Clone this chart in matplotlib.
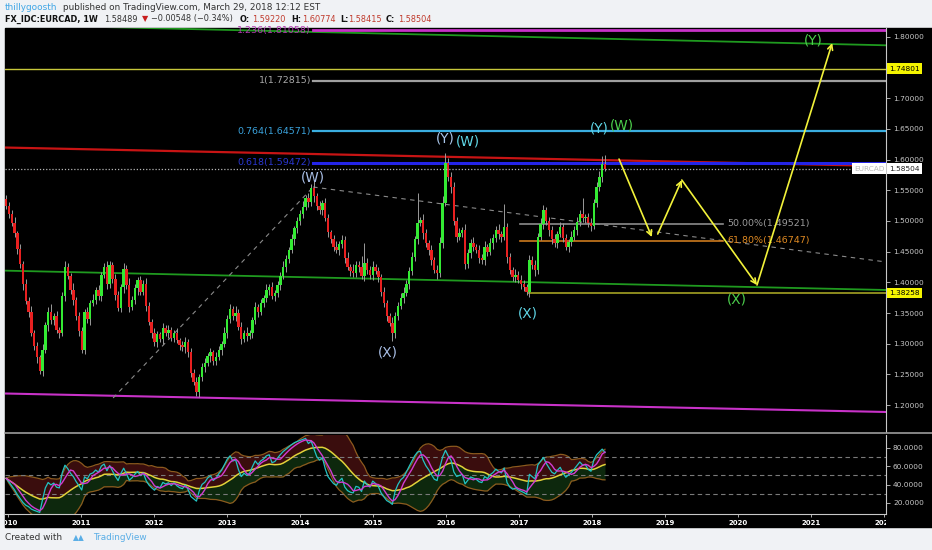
import matplotlib
matplotlib.use("Agg")
import matplotlib.pyplot as plt
import matplotlib.transforms as mtransforms
from matplotlib.patches import Rectangle
import numpy as np
import pandas as pd

# EURCAD weekly chart, prices (one candle every 2 weeks)
start_year = 2009.975
step_years = 14 / 365.25
first_open = 1.535
closes = [
    1.525, 1.512, 1.497, 1.480, 1.455, 1.430, 1.398, 1.370, 1.352, 1.318,
    1.296, 1.278, 1.256, 1.290, 1.330, 1.352, 1.338, 1.345, 1.322, 1.318,
    1.378, 1.425, 1.410, 1.388, 1.372, 1.345, 1.320, 1.290, 1.352, 1.340,
    1.366, 1.372, 1.388, 1.378, 1.412, 1.425, 1.398, 1.428, 1.405, 1.380,
    1.358, 1.392, 1.422, 1.395, 1.360, 1.372, 1.390, 1.404, 1.385, 1.398,
    1.362, 1.336, 1.318, 1.302, 1.315, 1.308, 1.326, 1.318, 1.322, 1.310,
    1.318, 1.306, 1.298, 1.294, 1.302, 1.286, 1.252, 1.238, 1.222, 1.245,
    1.262, 1.268, 1.280, 1.286, 1.272, 1.278, 1.290, 1.300, 1.318, 1.340,
    1.356, 1.345, 1.350, 1.328, 1.308, 1.318, 1.312, 1.318, 1.338, 1.360,
    1.352, 1.366, 1.374, 1.388, 1.393, 1.378, 1.382, 1.395, 1.410, 1.425,
    1.438, 1.452, 1.470, 1.488, 1.500, 1.512, 1.523, 1.538, 1.530, 1.553,
    1.540, 1.525, 1.518, 1.529, 1.505, 1.482, 1.470, 1.458, 1.452, 1.462,
    1.469, 1.440, 1.425, 1.418, 1.415, 1.428, 1.425, 1.410, 1.432, 1.420,
    1.412, 1.425, 1.418, 1.409, 1.385, 1.366, 1.345, 1.334, 1.318, 1.345,
    1.362, 1.375, 1.382, 1.398, 1.418, 1.441, 1.470, 1.496, 1.502, 1.480,
    1.464, 1.452, 1.436, 1.420, 1.415, 1.464, 1.529, 1.594, 1.572, 1.555,
    1.500, 1.474, 1.480, 1.485, 1.430, 1.448, 1.464, 1.458, 1.452, 1.440,
    1.436, 1.458, 1.450, 1.464, 1.472, 1.485, 1.478, 1.474, 1.490, 1.441,
    1.420, 1.409, 1.412, 1.404, 1.398, 1.392, 1.384, 1.436, 1.428, 1.420,
    1.474, 1.495, 1.518, 1.500, 1.485, 1.470, 1.464, 1.478, 1.490, 1.472,
    1.458, 1.466, 1.474, 1.485, 1.498, 1.512, 1.505, 1.506, 1.496, 1.492,
    1.529, 1.555, 1.572, 1.592, 1.585,
]
# wick lengths above / below the body, in 1/1000 of a price unit
wick_hi = [
    8, 6, 5, 9, 4, 7, 5, 8, 6, 9,  5, 7, 4, 10, 6, 8, 12, 5, 9, 6,
    7, 9, 6, 5, 11, 4, 6, 8, 5, 7,  6, 9, 5, 8, 4, 7, 10, 6, 5, 8,
    6, 5, 9, 7, 12, 6, 8, 4, 7, 5,  9, 6, 5, 8, 6, 4, 7, 5, 9, 6,
    5, 8, 4, 6, 9, 5, 7, 6, 8, 5,  6, 9, 5, 7, 4, 8, 6, 5, 9, 6,
    8, 5, 12, 6, 7, 5, 9, 4, 6, 8,  5, 7, 6, 9, 4, 8, 5, 7, 6, 10,
    6, 5, 8, 4, 7, 6, 9, 5, 8, 7,  12, 6, 8, 5, 9, 6, 4, 7, 10, 5,
    8, 6, 9, 5, 12, 7, 6, 18, 32, 8,  6, 9, 5, 7, 4, 8, 6, 5, 9, 7,
    6, 8, 10, 5, 7, 9, 6, 50, 5, 9,  7, 5, 9, 6, 8, 10, 12, 16, 8, 7,
    9, 6, 8, 5, 10, 7, 6, 9, 5, 8,  6, 9, 5, 8, 7, 6, 10, 5, 38, 6,
    7, 5, 9, 6, 8, 5, 6, 9, 7, 8,  6, 9, 8, 5, 7, 6, 9, 5, 8, 6,
    7, 5, 9, 6, 8, 5, 25, 6, 7, 9,  6, 8, 9, 14, 16,
]
wick_lo = [
    6, 8, 5, 7, 9, 6, 10, 5, 8, 6,  7, 9, 6, 8, 5, 10, 6, 7, 5, 9,
    6, 8, 5, 7, 9, 6, 8, 5, 7, 6,  9, 5, 7, 6, 8, 5, 9, 7, 6, 8,
    5, 7, 9, 6, 8, 5, 7, 10, 6, 5,  8, 6, 9, 5, 7, 6, 8, 5, 9, 6,
    7, 5, 8, 6, 9, 7, 6, 5, 7, 8,  6, 8, 5, 9, 6, 7, 5, 8, 6, 9,
    7, 6, 8, 5, 9, 6, 7, 5, 8, 6,  9, 5, 7, 6, 8, 5, 9, 6, 7, 5,
    8, 6, 5, 9, 7, 6, 8, 5, 7, 6,  9, 7, 6, 8, 5, 9, 6, 7, 5, 8,
    6, 9, 5, 8, 7, 6, 9, 5, 8, 7,  6, 8, 5, 9, 7, 6, 8, 5, 14, 9,
    7, 6, 8, 5, 9, 6, 7, 8, 5, 9,  6, 8, 7, 5, 9, 6, 8, 5, 7, 9,
    6, 8, 5, 7, 9, 6, 8, 7, 5, 9,  6, 8, 7, 5, 9, 6, 7, 8, 5, 9,
    6, 7, 8, 5, 9, 6, 4, 8, 6, 9,  7, 5, 8, 6, 9, 7, 6, 8, 5, 7,
    6, 9, 7, 5, 8, 6, 7, 9, 6, 8,  5, 7, 6, 8, 4,
]

last_price = 1.58504
marked_levels = [1.74801, 1.38258]

fib_ext_levels = [1.236, 1, 0.764, 0.618]
fib_ext_prices = [1.81058, 1.72815, 1.64571, 1.59472]
fib_ext_start = 2014.18
fib_ret_labels = ["50.00%", "61.80%"]
fib_ret_prices = [1.49521, 1.46747]
fib_ret_span = [2017.01, 2019.79]

trend_x = [2009.96, 2022.03]
green_upper = [1.8195, 1.786]
red_line = [1.6195, 1.5894]
green_lower = [1.419, 1.3875]
magenta_lower = [1.2189, 1.1888]
dash_lower_x = [2011.44, 2014.18]
dash_lower_y = [1.2116, 1.5552]
dash_upper_x = [2014.18, 2022.03]
dash_upper_y = [1.5552, 1.4331]
olive_start = 2017.12

# projected path (yellow arrows)
proj_x = [2018.37, 2018.82, 2018.90, 2019.23, 2020.26, 2021.29]
proj_y = [1.6007, 1.4737, 1.4786, 1.5666, 1.3956, 1.7897]
proj_legs = [(0, 1), (2, 3), (3, 4), (4, 5)]

wave_text = ["(W)", "(X)", "(Y)", "(W)", "(X)", "(Y)", "(W)", "(X)", "(Y)"]
wave_x = [2014.18, 2015.21, 2015.99, 2016.30, 2017.12, 2018.10, 2018.41, 2019.99, 2021.03]
wave_y = [1.5699, 1.2849, 1.6350, 1.6300, 1.3500, 1.6513, 1.6546, 1.3712, 1.7946]
wave_col = ["#a9bfe6", "#a9bfe6", "#a9c6ea", "#5fd6e6", "#5fd6e6",
            "#5fd6e6", "#4ccf4c", "#4ccf4c", "#4ccf4c"]

years = list(range(2010, 2023))
# 1.75 is hidden behind the 1.74801 marker on the axis
price_ticks = [1.20, 1.25, 1.30, 1.35, 1.40, 1.45, 1.50, 1.55, 1.60, 1.65, 1.70, 1.80]
rsi_ticks = [20, 40, 60, 80]
rsi_guides = [30, 50, 70]

# ---- figure in pixel units ----
W, H = 932, 550
fig = plt.figure(figsize=(W / 100, H / 100), dpi=100, facecolor="#f0f2f5")


def fx(px):
    return px / W


def fy(py):
    return 1 - py / H


fig.patches.append(Rectangle((fx(5), fy(527)), fx(927), (527 - 28) / H,
                             transform=fig.transFigure, color="black", zorder=-5))

ax = fig.add_axes([fx(5), fy(432), fx(881), (432 - 28) / H])
ax2 = fig.add_axes([fx(5), fy(514), fx(881), (514 - 435) / H])
xlim = (2009.959, 2022.027)
for a in (ax, ax2):
    a.set_facecolor("black")
    a.set_xlim(*xlim)
    for s in ("top", "left", "bottom"):
        a.spines[s].set_visible(False)
    a.spines["right"].set_color("#c8c8c8")
    a.yaxis.tick_right()
    a.tick_params(axis="y", colors="#c8c8c8", labelsize=5.3, length=3, width=0.6, pad=2)

ax.set_ylim(1.1562, 1.8142)
ax.set_xticks([])
ax.set_yticks(price_ticks)
ax.set_yticklabels([f"{p:.5f}" for p in price_ticks])

# candles
c = np.array(closes)
o = np.r_[first_open, c[:-1]]
t = start_year + np.arange(len(c)) * step_years
hi = np.maximum(o, c) + np.array(wick_hi) / 1000
lo = np.minimum(o, c) - np.array(wick_lo) / 1000
col = np.where(c >= o, "#33ea33", "#e82020")
ax.vlines(t, lo, hi, color="#9a9a9a", lw=0.7, zorder=3)
body = np.where(np.abs(c - o) < 0.002, 0.002, c - o)
ax.bar(t, body, bottom=o, width=0.033, color=col, linewidth=0, zorder=4)

# trend lines
ax.plot(trend_x, green_upper, color="#1f9a1f", lw=1.3, zorder=2)
ax.plot(trend_x, red_line, color="#c81414", lw=1.6, zorder=2)
ax.plot(trend_x, green_lower, color="#1f9a1f", lw=1.3, zorder=2)
ax.plot(trend_x, magenta_lower, color="#c832c8", lw=1.5, zorder=2)
ax.plot(dash_lower_x, dash_lower_y, color="#8a8a8a", lw=0.8, ls=(0, (4, 4)), zorder=2)
ax.plot(dash_upper_x, dash_upper_y, color="#8a8a8a", lw=0.8, ls=(0, (4, 4)), zorder=2)
ax.axhline(marked_levels[0], color="#c8c83a", lw=1.0, zorder=2)
ax.plot([olive_start, xlim[1]], [marked_levels[1]] * 2, color="#a4a224", lw=1.2, zorder=2)
ax.axhline(last_price, color="#b4b4b4", lw=0.9, ls=(0, (1, 1.5)), zorder=5)

# fib extension levels
ext_colors = ["#c832c8", "#a0a0a0", "#3aaee0", "#2424e8"]
ext_text_col = ["#b23ab2", "#a8a8a8", "#3aa2dc", "#2a36d0"]
ext_lw = [2.0, 1.6, 1.6, 2.2]
for lvl, p, lc, tc, lw in zip(fib_ext_levels, fib_ext_prices, ext_colors, ext_text_col, ext_lw):
    ax.plot([fib_ext_start, xlim[1]], [p, p], color=lc, lw=lw, zorder=2)
    ax.text(fib_ext_start - 0.03, p, f"{lvl:g}({p:.5f})", color=tc, fontsize=6.8,
            ha="right", va="center", zorder=6)

# fib retracement levels
ret_colors = ["#8c8c8c", "#cc7a1e"]
ret_text = ["#9a9a9a", "#e08a22"]
for lab, p, lc, tc in zip(fib_ret_labels, fib_ret_prices, ret_colors, ret_text):
    ax.plot(fib_ret_span, [p, p], color=lc, lw=1.2, zorder=2)
    ax.text(fib_ret_span[1] + 0.06, p, f"{lab}({p:.5f})", color=tc, fontsize=6.8,
            ha="left", va="center", zorder=6)

# projected path
for a_i, b_i in proj_legs:
    ax.annotate("", xy=(proj_x[b_i], proj_y[b_i]), xytext=(proj_x[a_i], proj_y[a_i]),
                arrowprops=dict(arrowstyle="->", color="#f2f23a", lw=1.2,
                                shrinkA=0, shrinkB=0, mutation_scale=9), zorder=7)

# wave labels
for s, x, y, cc in zip(wave_text, wave_x, wave_y, wave_col):
    ax.text(x, y, s, color=cc, fontsize=9.8, ha="center", va="center", zorder=8)

# price labels on the right axis
tr = mtransforms.blended_transform_factory(ax.transAxes, ax.transData)
for p in marked_levels:
    ax.text(1.004, p, f"{p:.5f}", transform=tr, fontsize=5.3, color="black",
            ha="left", va="center", zorder=9, clip_on=False,
            bbox=dict(boxstyle="square,pad=0.3", fc="#f4f400", ec="none"))
ax.text(1.004, last_price, f"{last_price:.5f}", transform=tr, fontsize=5.3, color="#222222",
        ha="left", va="center", zorder=9, clip_on=False,
        bbox=dict(boxstyle="square,pad=0.3", fc="white", ec="none"))
ax.text(0.998, last_price, "EURCAD", transform=tr, fontsize=5.3, color="#b8b8b8",
        ha="right", va="center", zorder=9,
        bbox=dict(boxstyle="square,pad=0.3", fc="white", ec="none"))

# ---- RSI panel ----
n = 10
au, ad = 0.008, 0.008
rsi = []
for d in np.diff(np.r_[first_open, c]):
    au = (au * (n - 1) + max(d, 0)) / n
    ad = (ad * (n - 1) + max(-d, 0)) / n
    rsi.append(100 - 100 / (1 + au / ad))
rsi = pd.Series(rsi)
rsi_ma = rsi.rolling(4, min_periods=1).mean()
basis = rsi.rolling(16, min_periods=1).mean()
sd = rsi.rolling(16, min_periods=1).std(ddof=0)
upper = basis + 1.8 * sd
lower = basis - 1.8 * sd

ax2.set_ylim(8, 94)
ax2.fill_between(t, basis, upper, color="#3a0d0d", lw=0, zorder=1)
ax2.fill_between(t, lower, basis, color="#0d280d", lw=0, zorder=1)
ax2.plot(t, upper, color="#8c5a1e", lw=0.9, zorder=2)
ax2.plot(t, lower, color="#8c5a1e", lw=0.9, zorder=2)
for g in rsi_guides:
    ax2.axhline(g, color="#7a7a7a", lw=0.8, ls=(0, (4, 3)), zorder=2)
ax2.plot(t, basis, color="#e0d23a", lw=1.1, zorder=3)
ax2.plot(t, rsi, color="#22c4c4", lw=0.9, zorder=4)
ax2.plot(t, rsi_ma, color="#d23cd2", lw=1.0, zorder=5)
ax2.set_yticks(rsi_ticks)
ax2.set_yticklabels([f"{v:.4f}" for v in rsi_ticks])
ax2.spines["bottom"].set_visible(True)
ax2.spines["bottom"].set_color("#c8c8c8")
ax2.set_xticks(years)
ax2.set_xticklabels([str(y) for y in years])
ax2.tick_params(axis="x", colors="#c8c8c8", labelcolor="white", labelsize=5, length=2,
                width=0.6, pad=2)
clip_rect = Rectangle((fx(5), fy(527)), fx(881), (527 - 514) / H, transform=fig.transFigure)
for lbl in ax2.get_xticklabels():
    lbl.set_fontweight("bold")
    lbl.set_clip_on(True)
    lbl.set_clip_path(clip_rect)

# separator between panels
fig.lines.append(plt.Line2D([fx(5), 1], [fy(433), fy(433)], transform=fig.transFigure,
                            color="#9c9c9c", lw=1.2))

# ---- header and footer ----
fig.text(fx(5), fy(7), "thillygoosth", color="#3fa6e6", fontsize=6.4, va="center")
fig.text(fx(63), fy(7), "published on TradingView.com, March 29, 2018 12:12 EST",
         color="#333333", fontsize=6.4, va="center")
hdr = [("FX_IDC:EURCAD, 1W", 5, "#111111", "bold"), ("1.58489", 104, "#333333", "normal"),
       ("\u25bc", 142, "#c81e1e", "normal"), ("\u22120.00548 (\u22120.34%)", 151, "#333333", "normal"),
       ("O:", 240, "#111111", "bold"), ("1.59220", 252, "#c0392b", "normal"),
       ("H:", 291, "#111111", "bold"), ("1.60774", 302, "#c0392b", "normal"),
       ("L:", 340, "#111111", "bold"), ("1.58415", 348, "#c0392b", "normal"),
       ("C:", 386, "#111111", "bold"), ("1.58504", 398, "#c0392b", "normal")]
for s, px, cc, fw in hdr:
    fig.text(fx(px), fy(19), s, color=cc, fontsize=5.9, fontweight=fw, va="center")

fig.text(fx(5), fy(538), "Created with", color="#333333", fontsize=6.4, va="center")
fig.text(fx(93), fy(538), "TradingView", color="#5aaee6", fontsize=6.4, va="center")
fig.text(fx(79), fy(538), "\u25b2\u25b2", color="#5aaee6", fontsize=5.5, va="center", ha="center")

fig.savefig("out.png", dpi=100, facecolor=fig.get_facecolor())
